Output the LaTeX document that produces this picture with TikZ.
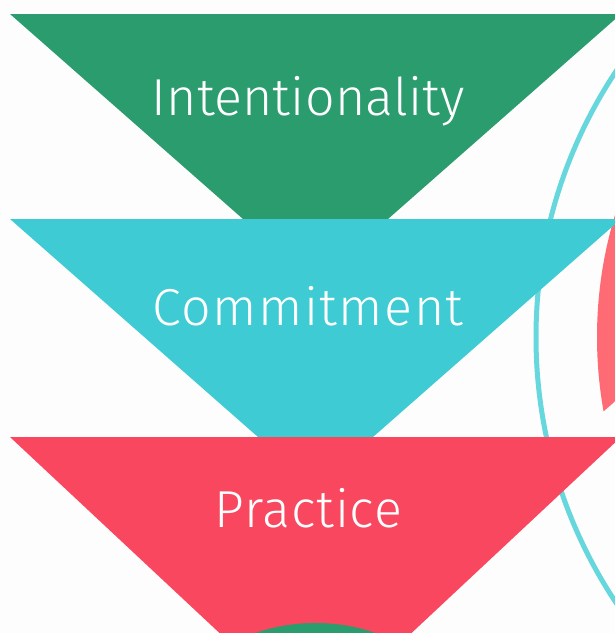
\documentclass[tikz,border=0pt]{standalone}
\usepackage{fontspec}
\setmainfont{Fira Sans}[UprightFont=* Light]
\definecolor{bggray}{HTML}{FDFDFD}
\definecolor{fgreen}{HTML}{2A9C6D}
\definecolor{fcyan}{HTML}{3ECBD4}
\definecolor{fred}{HTML}{F8475E}
\definecolor{fsalmon}{HTML}{FF6B75}
\definecolor{fring}{HTML}{66D7DC}
\begin{document}
\begin{tikzpicture}[x=1pt,y=-1pt,
  label text/.style={text=white,font=\fontsize{52}{60}\selectfont,anchor=base,inner sep=0pt}]
\useasboundingbox (0,0) rectangle (615,633);
\clip (0,0) rectangle (615,633);
\fill[bggray] (0,0) rectangle (615,633);
% ring and salmon disc on the right
\draw[fring,line width=5pt] (1017,337) circle[radius=481];
\begin{scope}
  \clip (580,150) -- (640,150) -- (640,379.6) -- (580,431.9) -- cycle;
  \fill[fsalmon] (1017,337) circle[radius=420];
\end{scope}
% funnel trapezoids
\fill[fgreen] (10,14) -- (621,14) -- (388,219) -- (243,219) -- cycle;
\fill[fcyan] (10,219) -- (621,219) -- (373,437) -- (258,437) -- cycle;
\fill[fred] (10,437) -- (621,437) -- (388,655) -- (243,655) -- cycle;
% green disc at bottom
\fill[fgreen] (315.5,808) circle[radius=185];
% labels
\node[label text] (t1) at (308,115) {\addfontfeature{LetterSpace=0.4}Intentionality};
\node[label text] (t2) at (308,325) {\addfontfeature{LetterSpace=2.8}Commitment};
\node[label text] (t3) at (308.5,527) {\addfontfeature{LetterSpace=1.6}Practice};
\end{tikzpicture}
\end{document}
